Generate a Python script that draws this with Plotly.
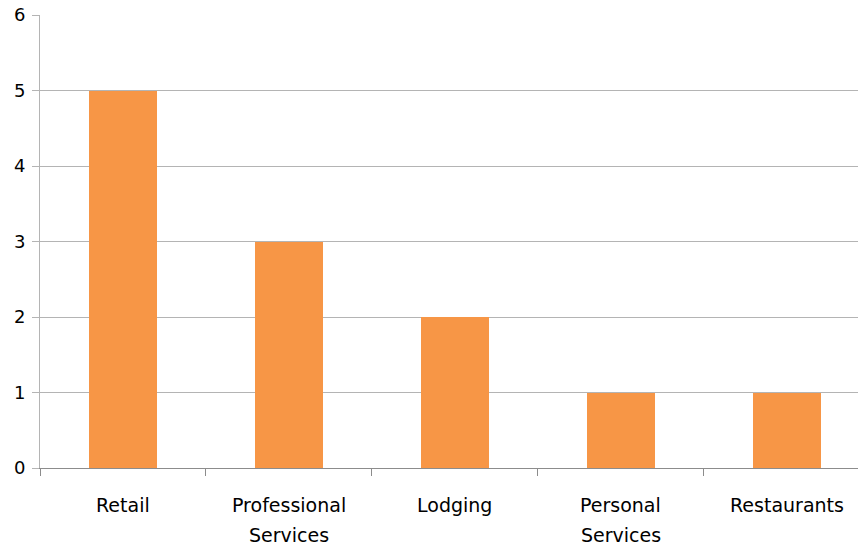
import plotly.graph_objects as go

# Business categories and counts
categories = ["Retail", "Professional Services", "Lodging", "Personal Services", "Restaurants"]
counts = [5, 3, 2, 1, 1]
# Axis labels, one list of lines per category
label_lines = [["Retail"], ["Professional", "Services"], ["Lodging"], ["Personal", "Services"], ["Restaurants"]]
y_ticks = [0, 1, 2, 3, 4, 5, 6]

positions = list(range(len(categories)))

fig = go.Figure(
    go.Bar(
        x=positions,
        y=counts,
        width=0.41,
        marker=dict(color="#F79646", line=dict(width=0)),
        hovertext=categories,
    )
)

annotations = []
for pos, lines in zip(positions, label_lines):
    for i, line in enumerate(lines):
        annotations.append(dict(
            x=pos, xref="x", y=0, yref="paper",
            text=line, showarrow=False,
            xanchor="center", yanchor="top",
            yshift=-24 - 30 * i,
            font=dict(family="DejaVu Sans", size=19, color="#000000"),
        ))

fig.update_layout(
    width=858, height=545,
    margin=dict(l=40, r=0, t=15, b=77),
    paper_bgcolor="white", plot_bgcolor="white",
    showlegend=False,
    annotations=annotations,
    xaxis=dict(
        range=[-0.5, 4.428],
        tickvals=[p - 0.5 for p in positions],
        ticktext=[""] * len(positions),
        ticks="outside", ticklen=7, tickcolor="#8C8C8C", tickwidth=1,
        showgrid=False, zeroline=False,
        showline=True, linecolor="#8C8C8C", linewidth=1,
        fixedrange=True,
    ),
    yaxis=dict(
        range=[0, 6], tickvals=y_ticks,
        ticks="outside", ticklen=7, tickcolor="#B4B4B4", tickwidth=1,
        showgrid=True, gridcolor="#B4B4B4", gridwidth=1,
        zeroline=False,
        showline=True, linecolor="#B4B4B4", linewidth=1,
        tickfont=dict(family="DejaVu Sans", size=18, color="#000000"),
        ticklabelstandoff=3,
    ),
    bargap=0,
)

fig.write_html("out.html")
